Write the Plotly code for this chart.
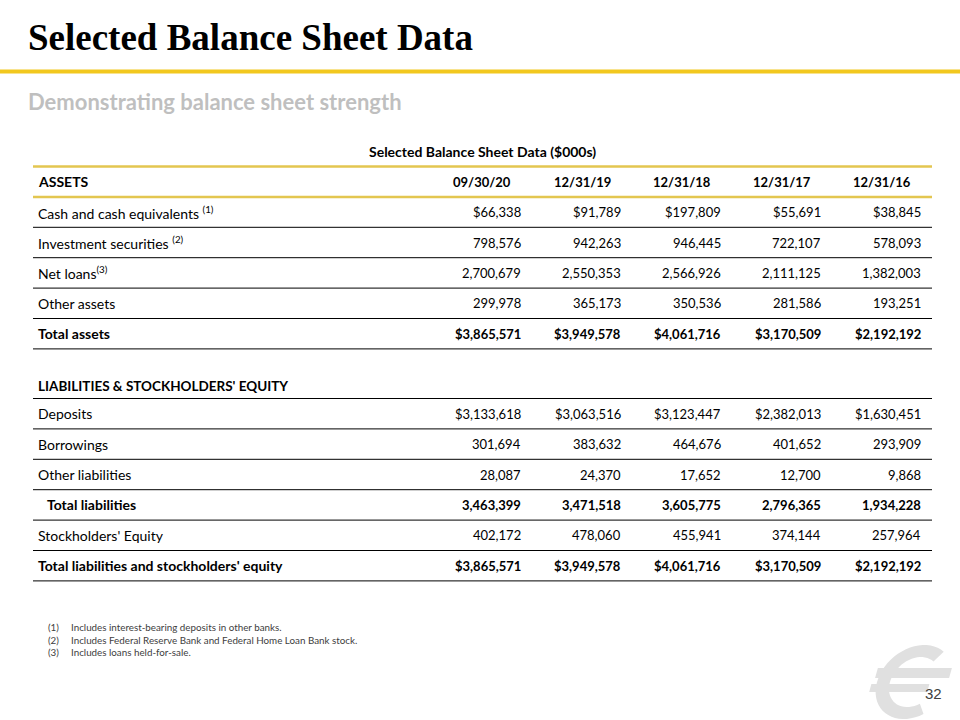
import numpy as np
import plotly.graph_objects as go

# ---------------- data ----------------
dates = ["09/30/20", "12/31/19", "12/31/18", "12/31/17", "12/31/16"]

asset_labels = ["Cash and cash equivalents", "Investment securities", "Net loans", "Other assets", "Total assets"]
asset_notes = [" <sup>(1)</sup>", " <sup>(2)</sup>", "<sup>(3)</sup>", "", ""]
cash = [66338, 91789, 197809, 55691, 38845]
investment = [798576, 942263, 946445, 722107, 578093]
net_loans = [2700679, 2550353, 2566926, 2111125, 1382003]
other_assets = [299978, 365173, 350536, 281586, 193251]
total_assets = [3865571, 3949578, 4061716, 3170509, 2192192]

liab_labels = ["Deposits", "Borrowings", "Other liabilities", "Total liabilities",
               "Stockholders' Equity", "Total liabilities and stockholders' equity"]
deposits = [3133618, 3063516, 3123447, 2382013, 1630451]
borrowings = [301694, 383632, 464676, 401652, 293909]
other_liab = [28087, 24370, 17652, 12700, 9868]
total_liab = [3463399, 3471518, 3605775, 2796365, 1934228]
equity = [402172, 478060, 455941, 374144, 257964]
total_liab_equity = [3865571, 3949578, 4061716, 3170509, 2192192]

footnotes = ["Includes interest-bearing deposits in other banks.",
             "Includes Federal Reserve Bank and Federal Home Loan Bank stock.",
             "Includes loans held-for-sale."]

asset_values = [cash, investment, net_loans, other_assets, total_assets]
asset_dollar = [True, False, False, False, True]
asset_bold = [False, False, False, False, True]
liab_values = [deposits, borrowings, other_liab, total_liab, equity, total_liab_equity]
liab_dollar = [True, False, False, False, False, True]
liab_bold = [False, False, False, True, False, True]
liab_indent = [False, False, False, True, False, False]

# ---------------- styling ----------------
FONT = "Lato"
TSIZE = 13
LSIZE = 14
GOLD = "#F2C81E"
GOLD2 = "#E3C650"
ROW_H = 30.4
TABLE_L, TABLE_R = 33, 932
VAL_RIGHT = [523 + 100 * i for i in range(5)]
HDR_CENTER = [482 + 100 * i for i in range(5)]
LABEL_X = 36

fig = go.Figure()
fig.add_trace(go.Scatter(x=[0, 960], y=[0, 720], mode="markers",
                         marker=dict(opacity=0), hoverinfo="skip", showlegend=False))

ann = []
shapes = []


def fmt(v, dollar):
    s = f"{v:,}"
    return ("$" + s) if dollar else s


def text(x, y, t, size=TSIZE, color="#000000", anchor="left", family=FONT, bold=False):
    if bold:
        t = f"<b>{t}</b>"
    ann.append(dict(x=x, y=y, xref="x", yref="y", text=t, showarrow=False,
                    xanchor=anchor, yanchor="middle",
                    font=dict(family=family, size=size, color=color)))


def hline(y, color="#000000", width=1):
    shapes.append(dict(type="line", xref="x", yref="y", x0=TABLE_L, x1=TABLE_R, y0=y, y1=y,
                       line=dict(color=color, width=width)))


# ---- logo (light grey slanted euro-like mark), drawn first so text sits on top ----
cx, cy = 914, 682
skew = 0.28


def sk(x, y):
    return x + (cy - y) * skew, y


ang_o = np.radians(np.linspace(55, 300, 40))
ang_i = ang_o[::-1]
pts = [sk(cx + 37 * np.cos(a), cy - 37 * np.sin(a)) for a in ang_o]
pts += [sk(cx + 24 * np.cos(a), cy - 25 * np.sin(a)) for a in ang_i]
path = "M " + " L ".join(f"{x:.1f},{y:.1f}" for x, y in pts) + " Z"
shapes.append(dict(type="path", xref="x", yref="y", path=path,
                   fillcolor="#E0E0E0", line=dict(width=0), layer="below"))
for (ya, yb, xa, xb) in [(668, 678, 874, 948), (684, 692, 872, 930)]:
    p = [sk(xa, ya), sk(xb, ya), sk(xb, yb), sk(xa, yb)]
    shapes.append(dict(type="path", xref="x", yref="y",
                       path="M " + " L ".join(f"{x:.1f},{y:.1f}" for x, y in p) + " Z",
                       fillcolor="#E0E0E0", line=dict(width=0), layer="below"))

# Title area
text(26, 37, "Selected Balance Sheet Data", size=37, family="Liberation Serif", bold=True)
shapes.append(dict(type="line", xref="x", yref="y", x0=0, x1=960, y0=71.5, y1=71.5,
                   line=dict(color=GOLD, width=4)))
text(26, 101, "Demonstrating balance sheet strength", size=22, color="#BFBFBF", bold=True)

# Table title
text((TABLE_L + TABLE_R) / 2, 151, "Selected Balance Sheet Data ($000s)", size=14,
     anchor="center", bold=True)

# header row
top = 166.5
hline(top, GOLD2, 2.5)
hline(top + ROW_H, GOLD2, 2.5)
text(LABEL_X, top + ROW_H / 2, "ASSETS", size=LSIZE, bold=True)
for i, d in enumerate(dates):
    text(HDR_CENTER[i], top + ROW_H / 2, d, anchor="center", bold=True)

# asset rows
for r, (lab, note, vals, dol, b) in enumerate(zip(asset_labels, asset_notes, asset_values,
                                                 asset_dollar, asset_bold)):
    y0 = top + ROW_H * (r + 1)
    yc = y0 + ROW_H / 2
    lab_t = f"<b>{lab}</b>{note}" if b else lab + note
    text(LABEL_X, yc, lab_t, size=LSIZE)
    for i, v in enumerate(vals):
        text(VAL_RIGHT[i], yc, fmt(v, dol), anchor="right", bold=b)
    hline(y0 + ROW_H)

# liabilities section
liab_top = 398.5
text(LABEL_X, 386, "LIABILITIES & STOCKHOLDERS' EQUITY", size=LSIZE - 0.5, bold=True)
hline(liab_top)
for r, (lab, vals, dol, b, ind) in enumerate(zip(liab_labels, liab_values, liab_dollar,
                                                liab_bold, liab_indent)):
    y0 = liab_top + ROW_H * r
    yc = y0 + ROW_H / 2
    text(LABEL_X + (9 if ind else 0), yc, lab, size=LSIZE, bold=b)
    for i, v in enumerate(vals):
        text(VAL_RIGHT[i], yc, fmt(v, dol), anchor="right", bold=b)
    hline(y0 + ROW_H)

# footnotes
for k, f in enumerate(footnotes):
    yk = 627 + 12.5 * k
    text(46, yk, f"({k + 1})", size=9.8, color="#404040")
    text(69, yk, f, size=9.8, color="#404040")

# page number
text(933, 693, "32", size=15, color="#404040", anchor="center", family="Liberation Sans")

fig.update_layout(
    width=960, height=720,
    margin=dict(l=0, r=0, t=0, b=0),
    paper_bgcolor="white", plot_bgcolor="rgba(0,0,0,0)",
    xaxis=dict(range=[0, 960], visible=False, fixedrange=True),
    yaxis=dict(range=[720, 0], visible=False, fixedrange=True),
    annotations=ann, shapes=shapes,
    showlegend=False,
)
fig.write_html("out.html", config={"displayModeBar": False},
               post_script="document.body.style.margin='0px';")
